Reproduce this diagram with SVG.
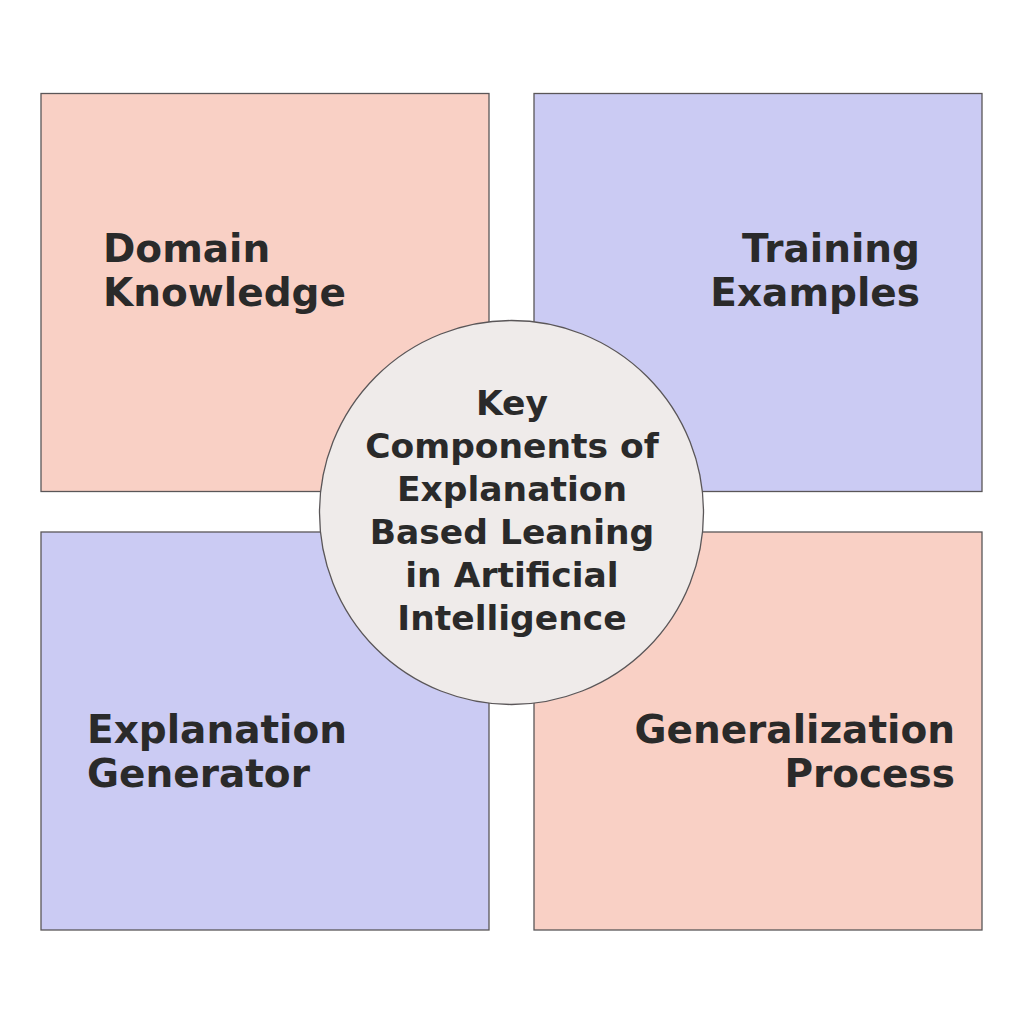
<svg xmlns="http://www.w3.org/2000/svg" width="1024" height="1024" viewBox="0 0 1024 1024">
<style>
.box{stroke:#5a5658;stroke-width:1.3}
.salmon{fill:#f9d0c5}
.lav{fill:#cbcbf3}
.lbl{font-family:"DejaVu Sans","Open Sans",sans-serif;font-weight:700;font-size:39px;fill:#2a2a2a}
.ctr{font-family:"DejaVu Sans","Open Sans",sans-serif;font-weight:700;font-size:34.5px;fill:#2a2a2a;text-anchor:middle}
</style>
<rect width="1024" height="1024" fill="#ffffff"/>
<g id="domain-knowledge">
<rect class="box salmon" x="41" y="93.5" width="448" height="398"/>
<text class="lbl" x="103" y="262">Domain</text>
<text class="lbl" x="103" y="306">Knowledge</text>
</g>
<g id="training-examples">
<rect class="box lav" x="534" y="93.5" width="448" height="398"/>
<text class="lbl" x="920" y="262" text-anchor="end">Training</text>
<text class="lbl" x="920" y="306" text-anchor="end">Examples</text>
</g>
<g id="explanation-generator">
<rect class="box lav" x="41" y="532" width="448" height="398"/>
<text class="lbl" x="87" y="743">Explanation</text>
<text class="lbl" x="87" y="787">Generator</text>
</g>
<g id="generalization-process">
<rect class="box salmon" x="534" y="532" width="448" height="398"/>
<text class="lbl" x="955" y="743" text-anchor="end">Generalization</text>
<text class="lbl" x="955" y="787" text-anchor="end">Process</text>
</g>
<g id="connectors"></g>
<g id="center">
<circle cx="511.5" cy="512.5" r="192" fill="#efebea" stroke="#5a5658" stroke-width="1.3"/>
<text class="ctr" x="512" y="415">Key</text>
<text class="ctr" x="512" y="458">Components of</text>
<text class="ctr" x="512" y="501">Explanation</text>
<text class="ctr" x="512" y="544">Based Leaning</text>
<text class="ctr" x="512" y="587">in Artificial</text>
<text class="ctr" x="512" y="630">Intelligence</text>
</g>
</svg>
